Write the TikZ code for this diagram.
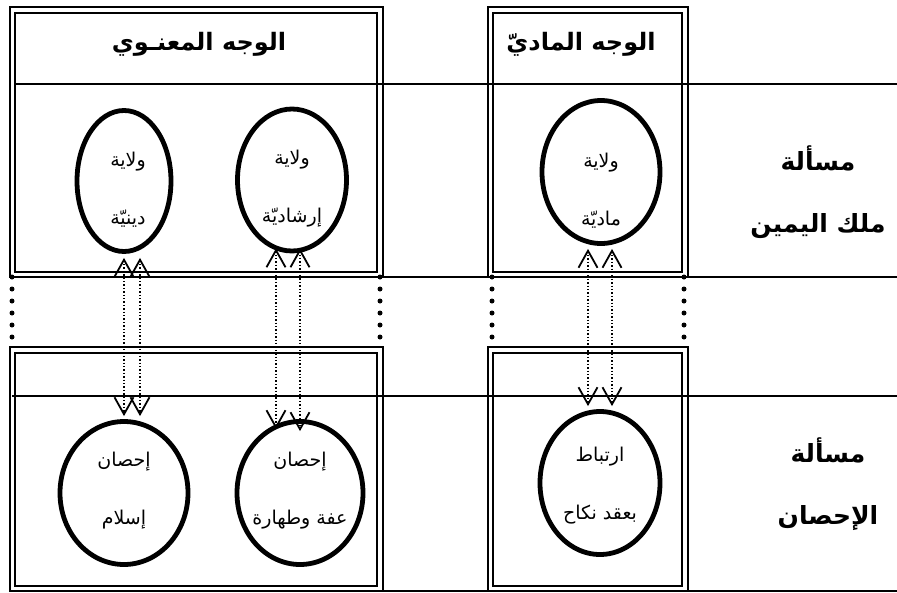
\documentclass[tikz,border=0pt]{standalone}
\usepackage{fontspec}
\newfontfamily\arabicfont[Script=Arabic]{DejaVu Sans}
\TeXXeTstate=1
\usetikzlibrary{shapes.geometric,arrows.meta}
\newcommand{\artext}[1]{\beginR#1\endR}

\begin{document}
\begin{tikzpicture}[x=1pt, y=-1pt,
    oval/.style={ellipse, draw, line width=4.8pt, inner sep=0pt},
    ovaltext/.style={font=\arabicfont\fontsize{19}{58}\selectfont, align=center},
    headtext/.style={font=\arabicfont\bfseries\fontsize{24}{28}\selectfont},
    sidetext/.style={font=\arabicfont\bfseries\fontsize{25}{62}\selectfont, align=center},
    outerframe/.style={line width=2.6pt},
    innerframe/.style={line width=1.6pt},
    rule/.style={line width=1.4pt},
    vtip/.tip={Straight Barb[length=17pt,width=19pt,line width=1.8pt]},
    biarrow/.style={dotted, line width=1.4pt, vtip-vtip}]
    \useasboundingbox (0,0) rectangle (897,592);

    % double frames
    \foreach \xa/\xb in {10/383,488/688} {
        \draw[outerframe] (\xa,7) rectangle (\xb,277);
        \draw[innerframe] (\xa+5,13) rectangle (\xb-6,272);
        \draw[outerframe] (\xa,347) rectangle (\xb,591);
        \draw[innerframe] (\xa+5,353) rectangle (\xb-6,586);
    }

    % long rules
    \draw[rule] (15,84) -- (897,84);
    \draw[rule] (383,277) -- (897,277);
    \draw[rule] (12,396) -- (897,396);
    \draw[rule] (383,591) -- (897,591);

    % dotted joins between the frames
    \foreach \x in {12,380,492,684}
        \foreach \k in {0,...,5}
            \fill (\x,277+12*\k) circle (2.5pt);

    % headers
    \node[headtext] (mana) at (199,44) {\artext{الوجه المعنـوي}};
    \node[headtext] (madd) at (581,44) {\artext{الوجه الماديّ}};

    \node[sidetext] (yamin) at (818,192) {\artext{مسألة}\\\artext{ملك اليمين}};
    \node[sidetext] (ihsan) at (828,484) {\artext{مسألة}\\\artext{الإحصان}};

    % ovals
    \node[oval, minimum width=94pt, minimum height=141pt] (dini) at (124,181) {};
    \node[oval, minimum width=109pt, minimum height=142pt] (irshad) at (292,180) {};
    \node[oval, minimum width=118pt, minimum height=143pt] (madi) at (601,172) {};
    \node[oval, minimum width=128pt, minimum height=143pt] (islam) at (124,493) {};
    \node[oval, minimum width=126pt, minimum height=143pt] (iffa) at (300,493) {};
    \node[oval, minimum width=120pt, minimum height=143pt] (nikah) at (600,483) {};

    \node[ovaltext] (dinitxt) at ([xshift=4pt,yshift=-9pt]dini) {\artext{ولاية}\\\artext{دينيّة}};
    \node[ovaltext] (irshadtxt) at ([yshift=-9pt]irshad) {\artext{ولاية}\\\artext{إرشاديّة}};
    \node[ovaltext] (maditxt) at ([yshift=-19pt]madi) {\artext{ولاية}\\\artext{ماديّة}};
    \node[ovaltext] (islamtxt) at ([yshift=2pt]islam) {\artext{إحصان}\\\artext{إسلام}};
    \node[ovaltext] (iffatxt) at ([yshift=2pt]iffa) {\artext{إحصان}\\\artext{عفة وطهارة}};
    \node[ovaltext] (nikahtxt) at ([yshift=-3pt]nikah) {\artext{ارتباط}\\\artext{بعقد نكاح}};

    % links
    \draw[biarrow] ([yshift=-4pt]dini.south) -- ([yshift=3pt]islam.north);
    \draw[biarrow] ([xshift=16pt,yshift=-4pt]dini.south) -- ([xshift=16pt,yshift=3pt]islam.north);
    \draw[biarrow] ([xshift=-16pt,yshift=5pt]irshad.south) -- ([xshift=-24pt,yshift=-10pt]iffa.north);
    \draw[biarrow] ([xshift=8pt,yshift=5pt]irshad.south) -- ([yshift=-12pt]iffa.north);
    \draw[biarrow] ([xshift=-13pt,yshift=-3pt]madi.south) -- ([xshift=-12pt,yshift=3pt]nikah.north);
    \draw[biarrow] ([xshift=11pt,yshift=-3pt]madi.south) -- ([xshift=12pt,yshift=3pt]nikah.north);
\end{tikzpicture}
\end{document}
